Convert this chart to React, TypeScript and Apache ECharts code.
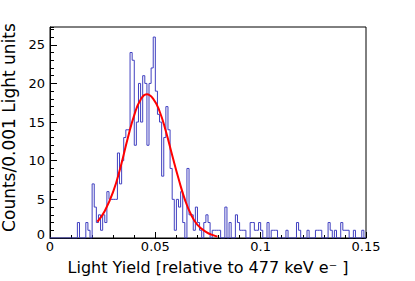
import React, { useEffect, useRef } from "react";
import * as echarts from "echarts";

// Histogram: 150 bins of width 0.001 from 0 to 0.15
const binWidth = 0.001;
const binCounts = [
  0, 0, 0, 0, 0, 0, 0, 0, 0, 0,
  0, 0, 0, 2, 0, 0, 0, 2, 1, 0,
  7, 4, 2, 3, 1, 3, 2, 6, 5, 5,
  5, 5, 11, 7, 10, 13, 14, 14, 24, 23,
  12, 15, 20, 15, 21, 20, 12, 20, 22, 26,
  19, 16, 15, 8, 13, 17, 14, 9, 5, 1,
  5, 4, 6, 2, 0, 9, 3, 3, 1, 4,
  2, 1, 0, 2, 3, 2, 0, 1, 1, 1,
  1, 0, 0, 4, 0, 2, 0, 0, 3, 2,
  1, 1, 1, 0, 0, 2, 2, 1, 1, 2,
  1, 0, 0, 2, 0, 1, 1, 1, 0, 0,
  0, 0, 1, 0, 0, 0, 0, 2, 1, 0,
  0, 0, 1, 0, 0, 0, 1, 1, 1, 0,
  0, 0, 2, 1, 0, 1, 0, 0, 2, 1,
  1, 1, 0, 0, 1, 0, 0, 0, 1, 0,
];

// Fit curve
const fitX = [0.0225, 0.026, 0.03, 0.0335, 0.037, 0.04, 0.043, 0.046, 0.049, 0.052, 0.055, 0.058, 0.061, 0.064, 0.067, 0.07, 0.074, 0.078, 0.0795];
const fitY = [2.1, 3.5, 6.0, 9.2, 13.0, 15.9, 17.9, 18.6, 18.0, 16.4, 13.8, 10.7, 7.7, 5.0, 3.0, 1.7, 0.8, 0.3, 0.2];

const xMin = 0;
const xMax = 0.15;
const xMajor = 0.05;
const xMinor = 0.01;
const yMin = 0;
const yMax = 27.3;
const yMajor = 5;
const yMinor = 1;

const xTitle = "Light Yield [relative to 477 keV e\u207B ]";
const yTitle = "Counts/0.001 Light units";

const FONT = "DejaVu Sans";

export default function App() {
  const ref = useRef<HTMLDivElement>(null);
  useEffect(() => {
    if (!ref.current) return;
    const chart = echarts.init(ref.current, null, { renderer: "svg" });
    const histData: [number, number][] = binCounts.map((c, i) => [i * binWidth, c]);
    histData.push([binCounts.length * binWidth, binCounts[binCounts.length - 1]]);
    const fitData = fitX.map((x, i) => [x, fitY[i]]);
    chart.setOption({
      animation: false,
      backgroundColor: "#fff",
      grid: {
        left: 50,
        top: 27,
        width: 316,
        height: 211,
        show: true,
        borderColor: "#000",
        borderWidth: 1,
        backgroundColor: "transparent",
        containLabel: false,
        outerBoundsMode: "none",
      },
      xAxis: [
        {
          type: "value",
          min: xMin,
          max: xMax,
          interval: xMajor,
          axisLine: { show: true, onZero: false, lineStyle: { color: "#000", width: 1 } },
          axisTick: { show: true, inside: true, length: 6, lineStyle: { color: "#000" } },
          minorTick: { show: true, splitNumber: Math.round(xMajor / xMinor), length: 3, lineStyle: { color: "#000" } },
          splitLine: { show: false },
          axisLabel: { color: "#000", fontSize: 13, fontFamily: FONT, margin: 2 },
          name: xTitle,
          nameLocation: "middle",
          nameGap: 21,
          nameTextStyle: { color: "#000", fontSize: 16, fontFamily: FONT },
        },
      ],
      yAxis: [
        {
          type: "value",
          min: yMin,
          max: yMax,
          interval: yMajor,
          axisLine: { show: true, onZero: false, lineStyle: { color: "#000", width: 1 } },
          axisTick: { show: true, inside: true, length: 7, lineStyle: { color: "#000" } },
          splitLine: { show: false },
          axisLabel: {
            color: "#000",
            fontSize: 13,
            fontFamily: FONT,
            margin: 5,
            showMaxLabel: false,
            formatter: (v: number) => (v === 0 ? "{z|0}" : String(v)),
            rich: { z: { fontSize: 13, fontFamily: FONT, color: "#000", padding: [0, 0, 8, 0] } },
          },
          name: yTitle,
          nameLocation: "middle",
          nameGap: 31,
          nameRotate: 90,
          nameTextStyle: { color: "#000", fontSize: 17, fontFamily: FONT, padding: [0, 0, 0, 10] },
        },
        {
          type: "value",
          min: yMin,
          max: yMax,
          interval: yMinor,
          position: "left",
          offset: 0,
          axisLine: { show: false },
          axisTick: { show: true, inside: true, length: 4, lineStyle: { color: "#000" } },
          splitLine: { show: false },
          axisLabel: { show: false },
        },
      ],
      series: [
        {
          type: "line",
          step: "end",
          data: histData,
          symbol: "none",
          lineStyle: { color: "#4040c0", width: 1 },
          z: 2,
        },
        {
          type: "line",
          smooth: 0.5,
          data: fitData,
          symbol: "none",
          lineStyle: { color: "#ff0000", width: 2 },
          z: 3,
        },
      ],
    });
    return () => chart.dispose();
  }, []);
  return <div ref={ref} style={{ position: "fixed", left: 0, top: 0, width: 415, height: 281 }} />;
}
